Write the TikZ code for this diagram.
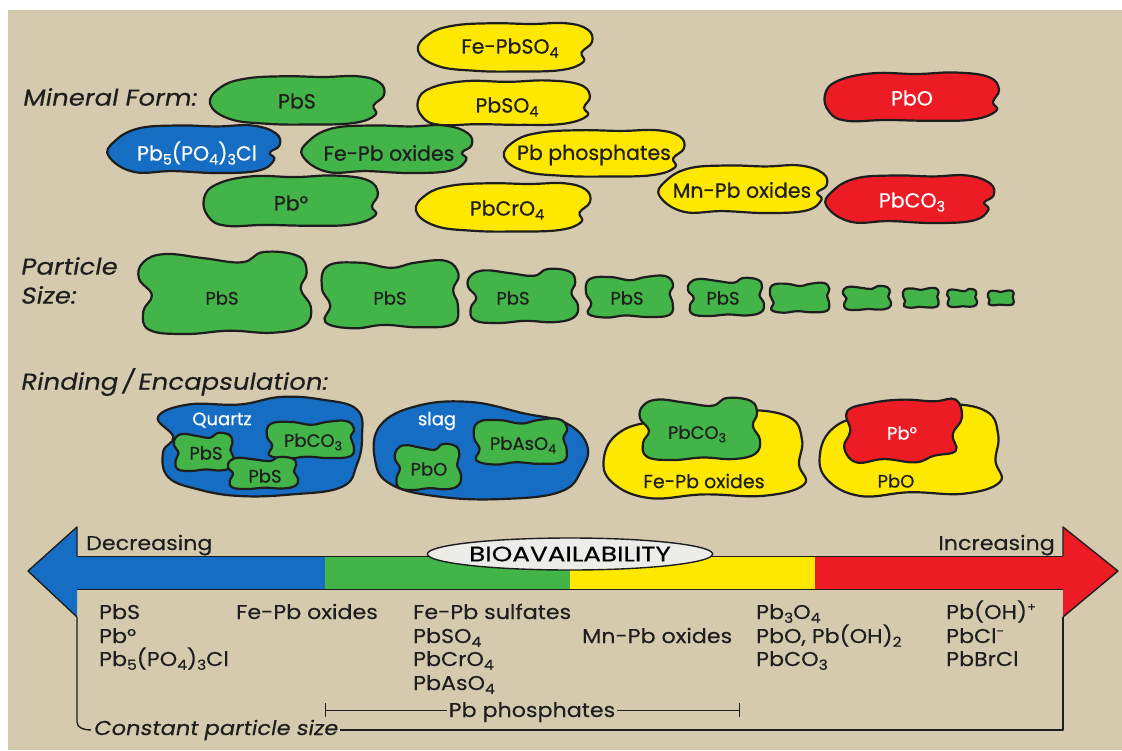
\documentclass[tikz,border=0pt]{standalone}
\usepackage{fontspec}
\usepackage{graphicx}
\usetikzlibrary{shapes.geometric}
\newfontfamily\labfont[FakeBold=0.5]{Poppins}
\newfontfamily\itfont[FakeSlant=0.18,FakeStretch=1.13,FakeBold=0.3]{Poppins}
\newfontfamily\btfont[FakeStretch=1.11,FakeBold=0.3]{Poppins}
\newfontfamily\biofont[FakeStretch=1.25,FakeBold=0.3]{Poppins}
\definecolor{bg}{RGB}{214,202,174}
\definecolor{gr}{RGB}{66,180,72}
\definecolor{ye}{RGB}{255,232,0}
\definecolor{rd}{RGB}{237,28,36}
\definecolor{bl}{RGB}{22,110,196}
\definecolor{ink}{RGB}{30,30,30}
\definecolor{ell}{RGB}{236,236,232}
\newcommand\sbs[1]{\raisebox{-0.35ex}{\scalebox{0.7}{#1}}}
\newcommand\sps[1]{\raisebox{0.7ex}[0.9ex][0pt]{\scalebox{0.6}{#1}}}
\newcommand\blobraw[5]{\begin{scope}[shift={#2},xscale=#3,yscale=#4]\draw[#1] plot[smooth cycle,tension=0.7] coordinates {#5};\end{scope}}
\newcommand\blob[5]{\edef\blobtmp{\noexpand\blobraw{#1}{#2}{#3}{#4}{#5}}\blobtmp}
% shapes (screen coordinates, y down)
\def\shA{(-1,0.15) (-0.88,-0.5) (-0.6,-0.85) (-0.15,-0.95) (0.3,-0.92) (0.7,-0.95) (0.95,-0.7) (1,-0.2) (0.88,0.22) (0.9,0.6) (0.65,0.92) (0.15,0.98) (-0.35,0.95) (-0.78,0.75)}
\def\shB{(-1,-0.1) (-0.85,-0.65) (-0.45,-0.95) (0.05,-0.92) (0.5,-0.98) (0.88,-0.8) (1,-0.3) (0.93,0.2) (0.97,0.55) (0.7,0.9) (0.2,0.95) (-0.3,0.92) (-0.75,0.95) (-0.95,0.6)}
\def\shC{(-0.98,0.3) (-0.92,-0.3) (-0.65,-0.85) (-0.2,-0.98) (0.25,-0.94) (0.65,-0.98) (0.92,-0.65) (0.96,-0.15) (0.85,0.15) (0.9,0.45) (0.72,0.9) (0.25,1) (-0.25,0.92) (-0.7,0.95)}
\def\shP{(-0.95,-0.75) (-0.7,-0.95) (-0.25,-0.85) (0.2,-0.75) (0.45,-1) (0.85,-0.9) (0.95,-0.5) (0.88,-0.1) (1,0.35) (0.92,0.8) (0.55,0.97) (0.05,0.92) (-0.45,1) (-0.88,0.9) (-0.95,0.45) (-0.85,0.05) (-1,-0.35)}
\def\shPb{(-0.92,-0.85) (-0.45,-0.95) (0,-0.8) (0.35,-0.95) (0.8,-1) (0.98,-0.6) (0.9,-0.15) (0.97,0.3) (0.9,0.85) (0.4,0.95) (-0.1,0.88) (-0.55,0.98) (-0.95,0.8) (-0.88,0.3) (-1,-0.2)}
\def\shQ{(-1,-0.6) (-0.7,-0.85) (-0.2,-0.85) (0.2,-1) (0.6,-0.95) (0.95,-0.75) (1,-0.2) (0.95,0.35) (0.8,0.8) (0.3,0.95) (-0.2,0.98) (-0.6,0.85) (-0.9,0.6) (-0.95,0.1) (-0.85,-0.2)}
\def\shS{(-0.95,-0.5) (-0.6,-0.9) (-0.1,-0.98) (0.4,-0.75) (0.8,-0.55) (1,-0.1) (0.95,0.4) (0.75,0.85) (0.2,1) (-0.4,0.95) (-0.85,0.7) (-1,0.2)}
\def\shY{(-1,0.1) (-0.85,-0.45) (-0.5,-0.7) (0,-0.75) (0.4,-0.95) (0.85,-0.8) (0.98,-0.3) (0.95,0.25) (1,0.7) (0.6,0.95) (0,0.92) (-0.55,1) (-0.92,0.65)}
\def\shR{(-0.9,-0.6) (-0.5,-0.85) (0,-0.95) (0.5,-0.9) (0.85,-0.95) (0.95,-0.4) (0.8,0.1) (0.85,0.6) (0.5,0.75) (0.2,0.95) (-0.3,0.85) (-0.75,0.95) (-0.95,0.5) (-0.85,0)}
\begin{document}
\begin{tikzpicture}[x=1pt,y=-1pt,line join=round,
  gblob/.style={fill=gr,draw=ink,line width=2.2pt},
  yblob/.style={fill=ye,draw=ink,line width=2.2pt},
  rblob/.style={fill=rd,draw=ink,line width=2.2pt},
  bblob/.style={fill=bl,draw=ink,line width=2.2pt},
  lbl/.style={font=\labfont\fontsize{20.5}{22}\selectfont,text=ink,inner sep=0pt},
  wlbl/.style={lbl,text=white},
  plbl/.style={font=\labfont\fontsize{18}{20}\selectfont,text=ink,inner sep=0pt},
  sec/.style={font=\itfont\fontsize{23}{25}\selectfont,anchor=west,inner sep=0pt,text=ink},
  btx/.style={font=\btfont\fontsize{20}{22}\selectfont,anchor=base west,inner sep=0pt,text=ink},
  edge/.style={draw=ink,line width=1.4pt}]
\useasboundingbox (0,0) rectangle (1122,750);
\fill[white] (0,0) rectangle (1122,750);
\fill[bg] (8,10) rectangle (1122,750);

% ---------------- Mineral form
\node[sec] (mf) at (22,97) {Mineral Form:};
\blob{yblob}{(505,47)}{87}{25}{\shA}
\blob{gblob}{(297,100)}{87}{25}{\shA}
\blob{yblob}{(504,103)}{86}{23}{\shB}
\blob{bblob}{(195,149)}{88}{24}{\shC}
\blob{gblob}{(388,149)}{87}{24}{\shC}
\blob{yblob}{(594,153)}{90}{24}{\shA}
\blob{gblob}{(291,201)}{87}{26}{\shB}
\blob{yblob}{(503,207)}{87}{25}{\shA}
\blob{yblob}{(744,189)}{86}{24}{\shC}
\blob{rblob}{(912,97)}{87}{25}{\shB}
\blob{rblob}{(911,199)}{86}{24}{\shC}
\node[lbl] (tFePbSO4) at (510,48) {Fe-PbSO\sbs{4}};
\node[lbl] (tPbS) at (297,101) {PbS};
\node[lbl] (tPbSO4) at (507,107) {PbSO\sbs{4}};
\node[wlbl] (tPb5) at (197,153) {Pb\sbs{5}(PO\sbs{4})\sbs{3}Cl};
\node[lbl] (tFePbOx) at (389,153) {Fe-Pb oxides};
\node[lbl] (tPbPhos) at (594,155) {Pb phosphates};
\node[lbl] (tPb0) at (291,203) {Pb°};
\node[lbl] (tPbCrO4) at (507,210) {PbCrO\sbs{4}};
\node[lbl] (tMnPb) at (742,190) {Mn-Pb oxides};
\node[wlbl] (tPbO) at (912,98) {PbO};
\node[wlbl] (tPbCO3) at (912,202) {PbCO\sbs{3}};

% ---------------- Particle size
\node[sec] (ps1) at (20,266) {Particle};
\node[sec] (ps2) at (20,295) {Size:};
\blob{gblob}{(225,293)}{86}{41}{\shP}
\blob{gblob}{(391,295)}{69}{34}{\shPb}
\blob{gblob}{(523,296)}{55}{27}{\shP}
\blob{gblob}{(630,297)}{44}{21}{\shPb}
\blob{gblob}{(726,297)}{38}{19}{\shP}
\blob{gblob}{(800,298)}{30}{15}{\shPb}
\blob{gblob}{(867,298)}{24}{12}{\shP}
\blob{gblob}{(921,298)}{18}{10}{\shPb}
\blob{gblob}{(962,298)}{15}{9}{\shP}
\blob{gblob}{(1001,298)}{13}{7.5}{\shPb}
\node[plbl] (p1) at (222,298) {PbS};
\node[plbl] (p2) at (390,298) {PbS};
\node[plbl] (p3) at (513,298) {PbS};
\node[plbl] (p4) at (627,298) {PbS};
\node[plbl] (p5) at (723,298) {PbS};

% ---------------- Rinding / encapsulation
\node[sec] (re) at (20,382) {Rinding\,/\,Encapsulation:};
\blob{bblob}{(260,447)}{102}{50}{\shQ}
\blob{gblob}{(204,452)}{30}{19}{\shP}
\blob{gblob}{(311,440)}{44}{19}{\shPb}
\blob{gblob}{(263,473)}{35}{16}{\shP}
\node[plbl,text=white] (quartz) at (222,420) {Quartz};
\node[plbl] (r1) at (206,453) {PbS};
\node[plbl] (r2) at (313,442) {PbCO\sbs{3}};
\node[plbl] (r3) at (265,476) {PbS};

\blob{bblob}{(481,450)}{106}{49}{\shS}
\blob{gblob}{(521,442)}{47}{23}{\shPb}
\blob{gblob}{(428,467)}{33}{23}{\shP}
\node[plbl,text=white] (slag) at (437,421) {slag};
\node[plbl] (r4) at (523,445) {PbAsO\sbs{4}};
\node[plbl] (r5) at (429,469) {PbO};

\blob{yblob}{(704,453)}{100}{45}{\shY}
\blob{gblob}{(700,429)}{60}{31}{\shP}
\node[plbl] (r6) at (697,434) {PbCO\sbs{3}};
\node[plbl,font=\labfont\fontsize{19}{21}\selectfont] (r7) at (704,481) {Fe-Pb oxides};

\blob{yblob}{(910,449)}{90}{47}{\shY}
\blob{rblob}{(903,431)}{62}{33}{\shR}
\node[plbl,text=white] (r8) at (902,433) {Pb°};
\node[plbl] (r9) at (896,481) {PbO};

% ---------------- Bioavailability arrow
\fill[bl] (28,571) -- (77,527) -- (77,617) -- cycle;
\fill[bl] (77,556) rectangle (325,589);
\fill[gr] (325,556) rectangle (570,589);
\fill[ye] (570,556) rectangle (815,589);
\fill[rd] (815,556) rectangle (1063,589);
\fill[rd] (1063,527) -- (1118,571) -- (1063,617) -- cycle;
\draw[edge] (77,556) -- (77,527) -- (28,571) -- (77,617);
\draw[edge] (1063,556) -- (1063,527) -- (1118,571) -- (1063,617);
\draw[ink,line width=0.8pt] (77,556) -- (1063,556) (77,589) -- (1063,589);
\node[ellipse,draw=ink,line width=1.4pt,fill=ell,minimum width=274,minimum height=32,inner sep=0pt,font=\biofont\fontsize{21}{24}\selectfont] (bio) at (570,554) {BIOAVAILABILITY};
\node[btx] (dec) at (86,550) {Decreasing};
\node[btx,anchor=base east] (inc) at (1055,550) {Increasing};

% ---------------- lists
\node[btx] (a1) at (99,619) {PbS};
\node[btx] (a2) at (99,643) {Pb°};
\node[btx] (a3) at (99,666) {Pb\sbs{5}(PO\sbs{4})\sbs{3}Cl};
\node[btx] (b1) at (236,619) {Fe-Pb oxides};
\node[btx] (c1) at (413,619) {Fe-Pb sulfates};
\node[btx] (c2) at (413,643) {PbSO\sbs{4}};
\node[btx] (c3) at (413,666) {PbCrO\sbs{4}};
\node[btx] (c4) at (413,690) {PbAsO\sbs{4}};
\node[btx] (d1) at (582,643) {Mn-Pb oxides};
\node[btx] (e1) at (756,619) {Pb\sbs{3}O\sbs{4}};
\node[btx] (e2) at (756,643) {PbO, Pb(OH)\sbs{2}};
\node[btx] (e3) at (756,666) {PbCO\sbs{3}};
\node[btx] (f1) at (946,619) {Pb(OH)\sps{+}};
\node[btx] (f2) at (946,643) {PbCl\sps{-}};
\node[btx] (f3) at (946,666) {PbBrCl};

% ---------------- Pb phosphates range
\node[btx,anchor=base] (pp) at (532,717) {Pb phosphates};
\coordinate (ppl) at (325,710);
\coordinate (ppr) at (739,710);
\draw[ink,line width=1pt] (ppl) -- ([xshift=-2pt]pp.west |- ppl) ([xshift=2pt]pp.east |- ppr) -- (ppr);
\draw[ink,line width=1pt] ([yshift=-7pt]ppl) -- ([yshift=7pt]ppl) ([yshift=-7pt]ppr) -- ([yshift=7pt]ppr);

% ---------------- constant particle size bracket
\node[font=\itfont\fontsize{20}{22}\selectfont,anchor=west,inner sep=2pt,text=ink] (cps) at (91,730) {Constant particle size};
\coordinate (cr) at (1063,730);
\draw[edge] (77,617) -- (77,722) to[out=-90,in=180] (cps.west);
\draw[edge] (cps.east) -- (cr) -- (1063,617);
\end{tikzpicture}
\end{document}
